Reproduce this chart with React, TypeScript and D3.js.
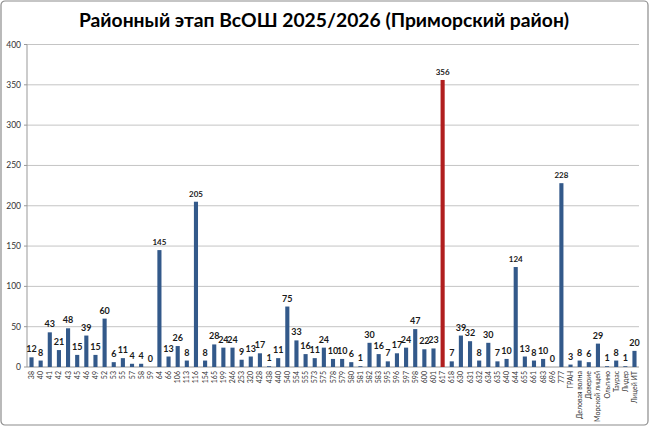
import React from "react";
import * as d3 from "d3";

const categories = ["38","40","41","42","43","45","46","49","52","53","55","57","58","59","64","66","106","113","116","154","165","199","246","253","320","428","438","440","540","554","555","573","575","578","579","580","581","582","583","595","596","597","598","600","601","617","618","630","631","632","634","635","640","644","655","661","683","696","777","ГРАН","Деловая волна","Доверие","Морской лицей","Ольгино","Таурас","Лидер","Лицей ИТ"];
const values = [12,8,43,21,48,15,39,15,60,6,11,4,4,0,145,13,26,8,205,8,28,24,24,9,13,17,1,11,75,33,16,11,24,10,10,6,1,30,16,7,17,24,47,22,23,356,7,39,32,8,30,7,10,124,13,8,10,0,228,3,8,6,29,1,8,1,20];
const highlight = ["617"];
const yTicks = [0,50,100,150,200,250,300,350,400];
const title = "Районный этап ВсОШ 2025/2026 (Приморский район)";

export default function App() {
  const W = 650, H = 427;
  const left = 27, right = 639, top = 44.5, bottom = 367;
  const x = d3.scaleBand<string>().domain(categories).range([left, right]).paddingInner(0.55).paddingOuter(0.27);
  const y = d3.scaleLinear().domain([0, 400]).range([bottom, top]);
  const font = "Lato, 'Open Sans', sans-serif";
  return (
    <svg width={W} height={H} style={{ position: "absolute", left: 0, top: 0 }}>
      <rect x={0} y={0} width={W} height={H} fill="#fff" />
      <rect x={1} y={1} width={W - 3} height={H - 3} rx={4} fill="#fff" stroke="#8c8c8c" strokeWidth={1.2} />
      <text x={W / 2 - 1} y={27} textAnchor="middle" fontFamily={font} fontWeight="bold" fontSize={19.3} fill="#000">{title}</text>
      {yTicks.map(t => (
        <g key={t}>
          {t > 0 && <line x1={left} x2={right} y1={y(t)} y2={y(t)} stroke="#c4c4c4" strokeWidth={1} />}
          <line x1={left - 3} x2={left} y1={y(t)} y2={y(t)} stroke="#999" strokeWidth={1} />
          <text x={21} y={y(t) + 3} textAnchor="end" fontFamily={font} fontSize={8.5} fill="#333">{t}</text>
        </g>
      ))}
      <line x1={left} x2={left} y1={top} y2={bottom} stroke="#999" strokeWidth={1} />
      <line x1={left} x2={right} y1={bottom} y2={bottom} stroke="#999" strokeWidth={1} />
      {categories.map((c, i) => {
        const cx = (x(c) as number) + x.bandwidth() / 2;
        const v = values[i];
        const isHi = highlight.includes(c);
        return (
          <g key={c}>
            <rect x={x(c)} y={y(v)} width={x.bandwidth()} height={bottom - y(v)} fill={isHi ? "#B01E1E" : "#33598A"} />
            <text x={cx} y={y(v) - 5} textAnchor="middle" fontFamily={font} fontWeight="bold" fontSize={isHi || v > 100 ? 8 : 9} fill="#1a1a1a">{v}</text>
            <text transform={`translate(${cx + 2.5},${bottom + 4}) rotate(-90)`} textAnchor="end" fontFamily={font} fontSize={7} fill="#333">{c}</text>
          </g>
        );
      })}
    </svg>
  );
}
